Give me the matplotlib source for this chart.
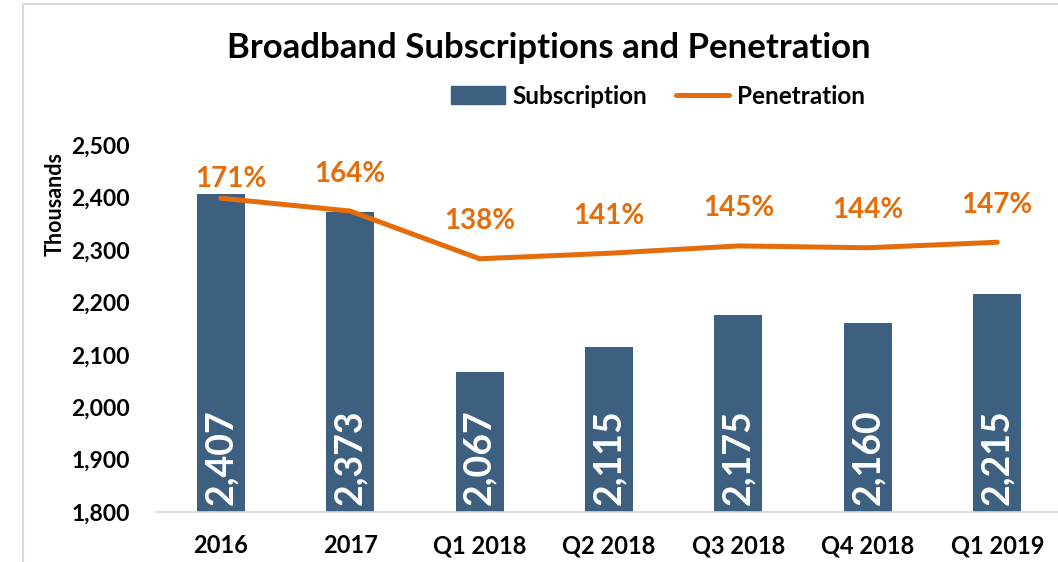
import matplotlib.pyplot as plt
from matplotlib.patches import Rectangle
from matplotlib.lines import Line2D

periods = ["2016", "2017", "Q1 2018", "Q2 2018", "Q3 2018", "Q4 2018", "Q1 2019"]
subscriptions = [2407, 2373, 2067, 2115, 2175, 2160, 2215]
penetration = [171, 164, 138, 141, 145, 144, 147]

bar_color = "#3D5F80"
line_color = "#E46C0A"

plt.rcParams["font.family"] = ["Lato", "DejaVu Sans"]
plt.rcParams["font.weight"] = "bold"

fig = plt.figure(figsize=(10.58, 5.62), dpi=100)

# cadre gris autour du graphique (coupé à droite et en bas)
fig.patches.append(Rectangle((23 / 1058, -0.05), 1.2, 1.05 - 4 / 562,
                             transform=fig.transFigure, fill=False,
                             edgecolor="#D9D9D9", linewidth=1.5))

ax = fig.add_axes([156 / 1058, 50 / 562, 906 / 1058, 367 / 562])
x = list(range(len(periods)))

ax.bar(x, subscriptions, width=0.37, color=bar_color, zorder=2)
ax.set_ylim(1800, 2500)
ax.set_xlim(-0.5, len(periods) - 0.5)
ax.set_yticks(range(1800, 2501, 100))
ax.set_yticklabels([f"{v:,}" for v in range(1800, 2501, 100)])
ax.set_xticks(x)
ax.set_xticklabels(periods)
ax.tick_params(axis="y", length=0, pad=19, labelsize=16.5)
ax.tick_params(axis="x", length=0, pad=16, labelsize=17)
for side in ["top", "right", "left"]:
    ax.spines[side].set_visible(False)
ax.spines["bottom"].set_color("#D9D9D9")
ax.spines["bottom"].set_linewidth(1.2)

for xi, v in zip(x, subscriptions):
    ax.text(xi, 1800 + 14, f"{v:,}", rotation=90, ha="center", va="bottom",
            color="white", fontsize=27, fontweight="bold", zorder=3)

# axe secondaire caché pour la pénétration (0 à 200 %)
ax2 = ax.twinx()
ax2.set_ylim(0, 200)
ax2.axis("off")
ax2.plot(x, penetration, color=line_color, linewidth=3.6,
         solid_capstyle="round", zorder=4)
for i, (xi, p) in enumerate(zip(x, penetration)):
    # la première étiquette est placée plus bas et un peu décalée
    off = (7, 14) if i == 0 else (0, 27)
    ax2.annotate(f"{p}%", (xi, p), xytext=off, textcoords="offset points",
                 ha="center", va="center", color=line_color,
                 fontsize=20, fontweight="bold")

fig.text(549 / 1058, 1 - 48 / 562, "Broadband Subscriptions and Penetration",
         ha="center", va="center", fontsize=25, fontweight="bold")
fig.text(55 / 1058, 1 - 204 / 562, "Thousands", rotation=90,
         ha="center", va="center", fontsize=15.5, fontweight="bold")

handles = [Rectangle((0, 0), 1, 1, color=bar_color),
           Line2D([0], [0], color=line_color, linewidth=3.6,
                  solid_capstyle="round")]
fig.legend(handles, ["Subscription", "Penetration"],
           loc="center", bbox_to_anchor=(658 / 1058, 1 - 96 / 562),
           ncol=2, frameon=False, fontsize=17.5, handlelength=2.2,
           handleheight=0.7, handletextpad=0.3, columnspacing=1.2)

fig.savefig("out.png", dpi=100)
